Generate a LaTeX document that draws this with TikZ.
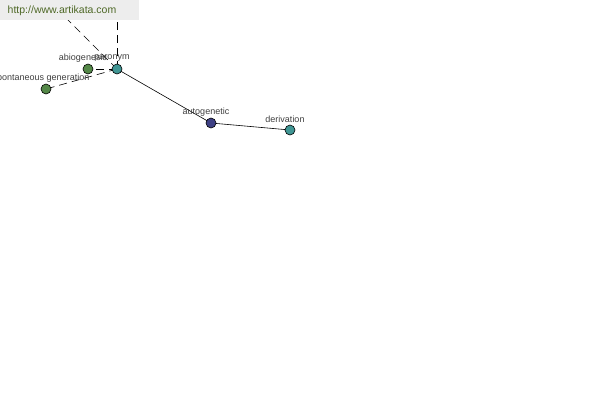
\documentclass[tikz,border=0pt]{standalone}
\usepackage{fontspec}
\setmainfont{Liberation Sans}
\definecolor{leafgreen}{RGB}{84,136,72}
\definecolor{seateal}{RGB}{64,150,148}
\definecolor{inkblue}{RGB}{62,64,132}
\definecolor{sitegreen}{RGB}{78,104,38}
\tikzset{
  dot/.style={circle,draw=black,line width=0.6pt,inner sep=0pt,minimum size=10pt,fill=#1},
  word/.style={font=\fontsize{9}{10}\selectfont,text=black!75,inner sep=0pt},
  link/.style={line width=0.6pt},
  weak/.style={line width=0.6pt,dash pattern=on 8pt off 5pt}
}
\begin{document}
\begin{tikzpicture}[x=1pt,y=-1pt]
  \useasboundingbox (0,0) rectangle (600,400);
  \clip (0,0) rectangle (600,400);
  \coordinate (up) at (117,-30);
  \coordinate (upleft) at (40,-8);
  % edges first, dots on top
  \path
  foreach \n/\x/\y in {abio/88/69,paro/117/69,spont/46/89,autog/211/123,deriv/290/130} {(\x,\y) coordinate (c\n)};
  \draw[link] (cparo)--(cautog)--(cderiv);
  \foreach \a/\b in {cparo/cabio,cparo/cspont,cparo/up,cparo/upleft} \draw[weak] (\a)--(\b);
  \foreach \n/\c in {abio/leafgreen,paro/seateal,spont/leafgreen,autog/inkblue,deriv/seateal}
    \node[dot=\c] (\n) at (c\n) {};
  \path
  foreach \n/\t in {abio/abiogenesis,paro/paronym,spont/spontaneous generation,autog/autogenetic,deriv/derivation}
    {([shift={(-5,-11)}]c\n) node[word] (t\n) {\t}};
  \fill[black!7] (0,0) rectangle (139,20);
  \node[font=\fontsize{10.5}{12}\selectfont,text=sitegreen] (site) at (62,11) {http://www.artikata.com};
\end{tikzpicture}
\end{document}
